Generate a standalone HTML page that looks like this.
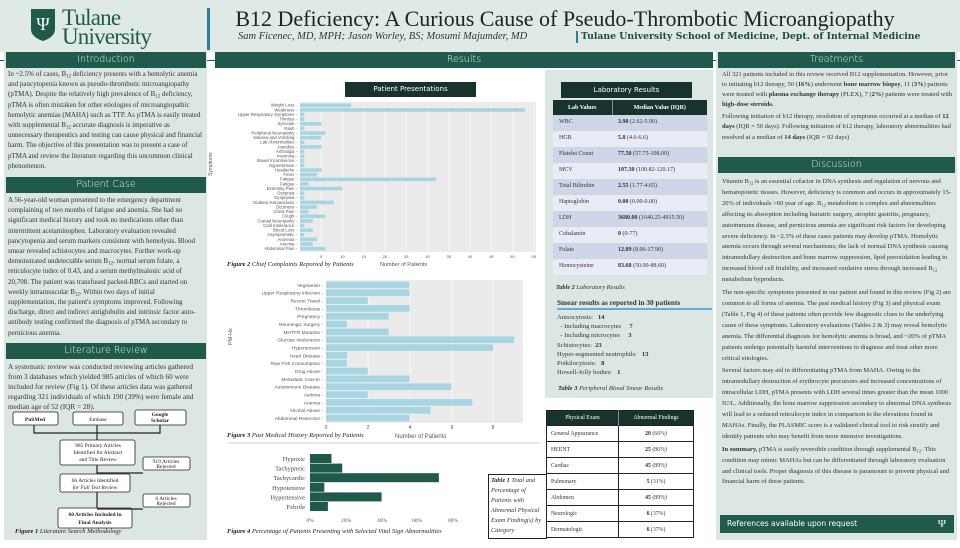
<!DOCTYPE html>
<html><head><meta charset="utf-8"><style>
*{margin:0;padding:0;box-sizing:border-box}
body{width:960px;height:540px;overflow:hidden;background:#fff;position:relative;font-family:"Liberation Serif",serif;color:#333}
.a{position:absolute}
sub{font-size:70%;line-height:0;vertical-align:-1.5px}
.pan{position:absolute;background:#dce7e4}
.hd{position:absolute;background:#1f5a4d;color:#e8f0ee;font-family:"DejaVu Sans","Liberation Sans",sans-serif;font-size:9.5px;text-align:center;line-height:16px;font-weight:300}
.t{position:absolute;font-size:7px;line-height:9.9px;color:#333}
.t p{margin-bottom:2px}
table{border-collapse:collapse}
</style></head><body>
<div class="pan" style="left:0;top:0;width:960px;height:52px;background:#dfe9e6"></div>
<svg class="a" style="left:31px;top:9px" width="24" height="32"><path d="M0 0H24V20Q24 28 12 32Q0 28 0 20Z" fill="#1f5a4d"/><text x="12" y="21" fill="#fff" font-size="18" text-anchor="middle" font-family="Liberation Serif">Ψ</text></svg>
<div class="a" style="left:62px;top:8px;font-size:23px;line-height:19px;color:#1f5a4d;font-family:'Liberation Serif',serif;letter-spacing:-0.8px">Tulane<br>University</div>
<div class="a" style="left:207px;top:8px;width:3px;height:42px;background:#2b7f96"></div>
<div class="a" style="left:215px;top:6px;width:700px;text-align:center;font-size:22px;color:#222">B12 Deficiency: A Curious Cause of Pseudo-Thrombotic Microangiopathy</div>
<div class="a" style="left:238px;top:31px;font-size:10.5px;font-style:italic;color:#333">Sam Ficenec, MD, MPH; Jason Worley, BS; Mosumi Majumder, MD</div>
<div class="a" style="left:576px;top:31px;width:2px;height:12px;background:#2b7f96"></div>
<div class="a" style="left:581px;top:31px;font-weight:bold;color:#1f4a40;font-family:'DejaVu Serif',serif;font-size:9.3px">Tulane University School of Medicine, Dept. of Internal Medicine</div>
<div class="a" style="left:0;top:60px;width:960px;height:1px;background:#1f5a4d"></div>
<div class="pan" style="left:4px;top:52px;width:203px;height:488px"></div>
<div class="hd" style="left:6px;top:52px;width:200px">Introduction</div>
<div class="t" style="left:8px;top:69px;width:196px;line-height:10.2px">In ~2.5% of cases, B<sub>12</sub> deficiency presents with a hemolytic anemia and pancytopenia known as pseudo-thrombotic microangiopathy (pTMA). Despite the relatively high prevalence of B<sub>12</sub> deficiency, pTMA is often mistaken for other etiologies of microangiopathic hemolytic anemias (MAHA) such as TTP. As pTMA is easily treated with supplemental B<sub>12</sub> accurate diagnosis is imperative as unnecessary therapeutics and testing can cause physical and financial harm. The objective of this presentation was to present a case of pTMA and review the literature regarding this uncommon clinical phenomenon.</div>
<div class="hd" style="left:6px;top:177px;width:200px">Patient Case</div>
<div class="t" style="left:8px;top:195px;width:196px;line-height:10.2px">A 56-year-old woman presented to the emergency department complaining of two months of fatigue and anemia. She had no significant medical history and took no medications other than intermittent acetaminophen. Laboratory evaluation revealed pancytopenia and serum markers consistent with hemolysis. Blood smear revealed schistocytes and macrocytes. Further work-up demonstrated undetectable serum B<sub>12</sub>, normal serum folate, a reticulocyte index of 0.43, and a serum methylmalonic acid of 20,708. The patient was transfused packed-RBCs and started on weekly intramuscular B<sub>12</sub>. Within two days of initial supplementation, the patient's symptoms improved. Following discharge, direct and indirect antiglobulin and intrinsic factor auto-antibody testing confirmed the diagnosis of pTMA secondary to pernicious anemia.</div>
<div class="hd" style="left:6px;top:343px;width:200px">Literature Review</div>
<div class="t" style="left:8px;top:362px;width:196px;font-size:7.3px">A systematic review was conducted reviewing articles gathered from 3 databases which yielded 985 articles of which 60 were included for review (Fig 1). Of these articles data was gathered regarding 321 individuals of which 190 (39%) were female and median age of 52 (IQR = 28).</div>
<svg class="a" style="left:0;top:405px" width="210" height="135" font-family="Liberation Serif" font-size="5.5" text-anchor="middle" fill="#222">
<g fill="#fff" stroke="#222" stroke-width="0.8">
<rect x="13" y="7" width="45" height="13" rx="2"/><rect x="73" y="7" width="50" height="13" rx="2"/><rect x="135" y="5" width="51" height="15" rx="2"/>
<rect x="60" y="35" width="75" height="25" rx="2"/><rect x="143" y="52" width="47" height="13" rx="2"/>
<rect x="60" y="69" width="70" height="18" rx="2"/><rect x="143" y="89" width="47" height="13" rx="2"/>
<rect x="58" y="103" width="74" height="20" rx="2"/></g>
<g stroke="#222" stroke-width="1.2" fill="none"><path d="M34 20V28H160V20M97 20V35M97 60V69M97 87V103M97 68H143M97 104H143"/></g>
<text x="35" y="16" font-weight="bold">PubMed</text><text x="98" y="16">Embase</text><text x="160" y="11" font-weight="bold">Google</text><text x="160" y="17" font-weight="bold">Scholar</text>
<text x="98" y="42">985 Primary Articles</text><text x="98" y="49">Identified for Abstract</text><text x="98" y="56">and Title Review</text>
<text x="166" y="58">919 Articles</text><text x="166" y="63">Rejected</text>
<text x="95" y="77">66 Articles Identified</text><text x="95" y="84" font-style="italic">for Full Text Review</text>
<text x="166" y="95">6 Articles</text><text x="166" y="100">Rejected</text>
<text x="95" y="111" font-weight="bold">60 Articles Included in</text><text x="95" y="119" font-weight="bold">Final Analysis</text>
<text x="15" y="128" text-anchor="start" font-size="6.5" font-style="italic"><tspan font-weight="bold">Figure 1</tspan> Literature Search Methodology</text>
</svg>
<div class="hd" style="left:215px;top:52px;width:498px">Results</div>
<div class="a" style="left:345px;top:82px;width:131px;height:15px;background:#18332d;color:#fff;font-family:'DejaVu Sans',sans-serif;font-size:7px;text-align:center;line-height:15px">Patient Presentations</div>
<svg class="a" style="left:200px;top:98px" width="345" height="450" font-family="Liberation Sans" font-size="4.3" fill="#555">
<rect x="100" y="4" width="236" height="150" fill="#ebebeb"/>
<g stroke="#fff" stroke-width="0.5"><path d="M121 4V154M143 4V154M164 4V154M185 4V154M206 4V154M228 4V154M249 4V154M270 4V154M291 4V154M313 4V154M334 4V154"/></g>
<g id="c2"></g>
<text x="4" y="70" transform="rotate(-90 12 70)" font-size="5">Symptoms</text>
<text x="180" y="168" font-size="5.5">Number of Patients</text>
<text x="27" y="168" font-size="6.5" font-family="Liberation Serif" font-style="italic" fill="#222"><tspan font-weight="bold">Figure 2</tspan> Chief Complaints Reported by Patients</text>
<rect x="126" y="182" width="197" height="143" fill="#ebebeb"/>
<g stroke="#fff" stroke-width="0.6"><path d="M126 182V325M168 182V325M210 182V325M252 182V325M293 182V325"/></g>
<g id="c3"></g>
<text x="30" y="245" transform="rotate(-90 32 245)" font-size="5.5">PM-Hx</text>
<g font-size="5" text-anchor="middle"><text x="126" y="331">0</text><text x="168" y="331">2</text><text x="210" y="331">4</text><text x="252" y="331">6</text><text x="293" y="331">8</text></g>
<text x="195" y="340" font-size="6">Number of Patients</text>
<text x="27" y="339" font-size="6.5" font-family="Liberation Serif" font-style="italic" fill="#222"><tspan font-weight="bold">Figure 3</tspan> Past Medical History Reported by Patients</text>
<line x1="28" y1="345" x2="340" y2="345" stroke="#ccc"/>
<g id="c4" font-family="Liberation Serif" font-size="6.5"></g>
<g font-size="5.5" font-family="Liberation Serif" text-anchor="middle"><text x="110" y="424">0%</text><text x="146" y="424">20%</text><text x="182" y="424">40%</text><text x="217" y="424">60%</text><text x="253" y="424">80%</text></g>
<text x="27" y="435" font-size="6.5" font-family="Liberation Serif" font-style="italic" fill="#222"><tspan font-weight="bold">Figure 4</tspan> Percentage of Patients Presenting with Selected Vital Sign Abnormalities</text>
</svg>
<div class="a" style="left:488px;top:474px;width:59px;height:65px;border:1px solid #222;background:#fff;font-size:6.3px;line-height:10px;font-style:italic;padding:1px 2px"><b>Table 1</b> Total and Percentage of Patients with Abnormal Physical Exam Finding(s) by Category</div>
<div class="pan" style="left:545px;top:70px;width:168px;height:328px"></div>
<div class="a" style="left:561px;top:82px;width:131px;height:16px;background:#18332d;color:#fff;font-family:'DejaVu Sans',sans-serif;font-size:7px;text-align:center;line-height:16px">Laboratory Results</div>
<table class="a" style="left:553px;top:100px;width:154px;font-size:6px">
<tr style="background:#18332d;color:#fff;height:15px;font-weight:bold"><td style="width:59px;text-align:center;border-right:1px solid #888">Lab Values</td><td style="text-align:center">Median Value (IQR)</td></tr>
</table>
<div id="lab"></div>
<div class="a" style="left:556px;top:284px;font-size:6.3px;font-style:italic"><b>Table 2</b> Laboratory Results</div>
<div class="a" style="left:557px;top:298px;font-size:7.3px;font-weight:bold">Smear results as reported in 30 patients</div>
<div class="a" style="left:557px;top:308px;width:155px;height:1.5px;background:#5ab0d0"></div>
<div class="t" style="left:557px;top:313px;font-size:6.6px;line-height:9.2px">Anisocytosis: &nbsp; <b>14</b><br>&nbsp; - Including macrocytes &nbsp; &nbsp; <b>7</b><br>&nbsp; - Including microcytes &nbsp; &nbsp; <b>3</b><br>Schistocytes: &nbsp;<b>23</b><br>Hyper-segmented neutrophils: &nbsp; <b>13</b><br>Poikilocytosis: &nbsp; <b>8</b><br>Howell-Jolly bodies: &nbsp; <b>1</b></div>
<div class="a" style="left:558px;top:385px;font-size:6.5px;font-style:italic"><b>Table 3</b> Peripheral Blood Smear Results</div>
<table class="a" style="left:546px;top:410px;width:148px;font-size:5.8px;border:1px solid #222" id="pe"></table>
<div class="pan" style="left:716px;top:52px;width:241px;height:488px"></div>
<div class="hd" style="left:718px;top:52px;width:237px">Treatments</div>
<div class="t" style="left:722px;top:70px;width:232px;font-size:6.5px;line-height:10.1px"><p>All 321 patients included in this review received B12 supplementation. However, prior to initiating b12 therapy, 50 (<b>16%</b>) underwent <b>bone marrow biopsy</b>, 11 (<b>3%</b>) patients were treated with <b>plasma exchange therapy</b> (PLEX), 7 (<b>2%</b>) patients were treated with <b>high-dose steroids.</b></p><p>Following initiation of b12 therapy, resolution of symptoms occurred at a median of <b>12 days</b> (IQR = 50 days). Following initiation of b12 therapy, laboratory abnormalities had resolved at a median of <b>14 days</b> (IQR = 92 days)</p></div>
<div class="hd" style="left:718px;top:157px;width:237px">Discussion</div>
<div class="t" style="left:722px;top:177px;width:232px;font-size:6.5px;line-height:10.9px"><p>Vitamin B<sub>12</sub> is an essential cofactor in DNA synthesis and regulation of nervous and hematopoietic tissues. However, deficiency is common and occurs in approximately 15-20% of individuals &gt;60 year of age. B<sub>12</sub> metabolism is complex and abnormalities affecting its absorption including bariatric surgery, atrophic gastritis, pregnancy, autoimmune disease, and pernicious anemia are significant risk factors for developing severe deficiency. In ~2.5% of these cases patients may develop pTMA. Hemolytic anemia occurs through several mechanisms; the lack of normal DNA synthesis causing intramedullary destruction and bone marrow suppression, lipid peroxidation leading to increased blood cell friability, and increased oxidative stress through increased B<sub>12</sub> metabolism byproducts.</p><p>The non-specific symptoms presented in our patient and found in this review (Fig 2) are common to all forms of anemia. The past medical history (Fig 3) and physical exam (Table 1, Fig 4) of these patients often provide few diagnostic clues to the underlying cause of these symptoms. Laboratory evaluations (Tables 2 &amp; 3) may reveal hemolytic anemia. The differential diagnosis for hemolytic anemia is broad, and ~20% of pTMA patients undergo potentially harmful interventions to diagnose and treat other more critical etiologies.</p><p>Several factors may aid in differentiating pTMA from MAHA. Owing to the intramedullary destruction of erythrocyte precursors and increased concentrations of intracellular LDH, pTMA presents with LDH several times greater than the mean 1000 IU/L. Additionally, the bone marrow suppression secondary to abnormal DNA synthesis will lead to a reduced reticulocyte index in comparison to the elevations found in MAHAs. Finally, the PLASMIC score is a validated clinical tool to risk stratify and identify patients who may benefit from more intensive investigations.</p><p><b>In summary,</b> pTMA is easily reversible condition through supplemental B<sub>12</sub>. This condition may mimic MAHAs but can be differentiated through laboratory evaluation and clinical tools. Proper diagnosis of this disease is paramount to prevent physical and financial harm of these patients.</p></div>
<div class="a" style="left:720px;top:515px;width:234px;height:18px;background:#1f5a4d;color:#fff;font-family:'DejaVu Sans',sans-serif;font-size:7.5px;line-height:18px;padding-left:7px">References available upon request<span style="position:absolute;right:8px;font-family:'Liberation Serif';font-size:11px">Ψ</span></div>
<script>
function el(t,a,p,txt){var e=document.createElementNS('http://www.w3.org/2000/svg',t);for(var k in a)e.setAttribute(k,a[k]);if(txt)e.textContent=txt;p.appendChild(e);return e}
var c2=[["Weight Loss",12],["Weakness",53],["Upper Respiratory Symptoms",1],["Tinnitus",1],["Syncope",5],["Rash",1],["Peripheral Neuropathy",6],["Nausea and Vomiting",5],["Lab Abnormalities",1],["Jaundice",5],["Arthralgia",1],["Insomnia",1],["Bowel Incontinence",1],["Hypertension",1],["Headache",5],["Fever",4],["Fatigue",32],["Fatigue",2],["Extremity Pain",10],["Dyspnea",1],["Dyspepsia",1],["Diabetic Ketoacidosis",8],["Dizziness",4],["Chest Pain",2],["Cough",6],["Cranial Neuropathy",3],["Cold Intolerance",1],["Blood Loss",3],["Asymptomatic",1],["Anorexia",4],["Anemia",3],["Abdominal Pain",6]];
var g=document.getElementById('c2');var h=148/32;
c2.forEach(function(d,i){var y=5+i*h;el('rect',{x:100,y:y+0.5,width:d[1]*4.25,height:h-1,fill:'#a8d5e2'},g);el('text',{x:97,y:y+h-1,'text-anchor':'end'},g,d[0]+' -')});
for(var i=0;i<=11;i++)el('text',{x:100+i*21.25,y:160,'text-anchor':'middle','font-size':'4'},g,i*5);
var c3=[["Vegetarian",4],["Upper Respiratory Infection",4],["Recent Travel",2],["Thrombosis",4],["Pregnancy",3],["Neurologic Surgery",1],["MHTFR Mutation",3],["Glucose Intolerance",9],["Hypertension",8],["Heart Disease",1],["Raw Fish Consumption",1],["Drug Abuse",2],["Metastatic Cancer",4],["Autoimmune Disease",6],["Asthma",2],["Anemia",7],["Alcohol Abuse",5],["Abdominal Resection",4]];
g=document.getElementById('c3');h=141/18;
c3.forEach(function(d,i){var y=183+i*h;el('rect',{x:126,y:y+0.6,width:d[1]*20.9,height:h-1.2,fill:'#a8d5e2'},g);el('text',{x:123,y:y+h-2,'text-anchor':'end','font-size':'4.8'},g,d[0]+' -')});
var c4=[["Hypoxic",12],["Tachypneic",18],["Tachycardic",72],["Hypotensive",8],["Hypertensive",40],["Febrile",10]];
g=document.getElementById('c4');
c4.forEach(function(d,i){var y=356+i*9.6;el('rect',{x:110,y:y,width:d[1]*1.79,height:9,fill:'#1f5a4d'},g);el('text',{x:105,y:y+7,'text-anchor':'end',fill:'#444'},g,d[0])});
var lab=[["WBC","3.90","(2.62-5.90)"],["HGB","5.8","(4.6-6.6)"],["Platelet Count","77.50","(57.75-108.00)"],["MCV","107.30","(100.82-120.17)"],["Total Bilirubin","2.55","(1.77-4.65)"],["Haptoglobin","0.00","(0.00-0.00)"],["LDH","3680.00","(1640.25-4915.50)"],["Cobalamin","0","(0-77)"],["Folate","12.89","(8.06-17.90)"],["Homocysteine","83.60","(50.00-88.60)"]];
var s='';lab.forEach(function(d,i){s+='<div class="a" style="left:553px;top:'+(115+i*16)+'px;width:154px;height:15.5px;background:'+(i%2?'#e8ecf4':'#cfd6e8')+';font-size:6px;line-height:15.5px"><span style="position:absolute;left:6px">'+d[0]+'</span><span style="position:absolute;left:65px"><b>'+d[1]+'</b> '+d[2]+'</span></div>'});
document.getElementById('lab').innerHTML=s;
var pe=[["General Appearance","20","(66%)"],["HEENT","25","(86%)"],["Cardiac","45","(89%)"],["Pulmonary","5","(31%)"],["Abdomen","45","(89%)"],["Neurologic","6","(37%)"],["Dermatologic","6","(37%)"]];
s='<tr style="background:#18332d;color:#fff;height:15px"><td style="width:72px;text-align:center;border-right:1px solid #888">Physical Exam</td><td style="text-align:center">Abnormal Findings</td></tr>';
pe.forEach(function(d){s+='<tr style="height:16px;background:#fff;border-top:1px solid #222"><td style="padding-left:4px;border-right:1px solid #222">'+d[0]+'</td><td style="text-align:center"><b>'+d[1]+'</b> '+d[2]+'</td></tr>'});
document.getElementById('pe').innerHTML=s;
</script>
</body></html>
